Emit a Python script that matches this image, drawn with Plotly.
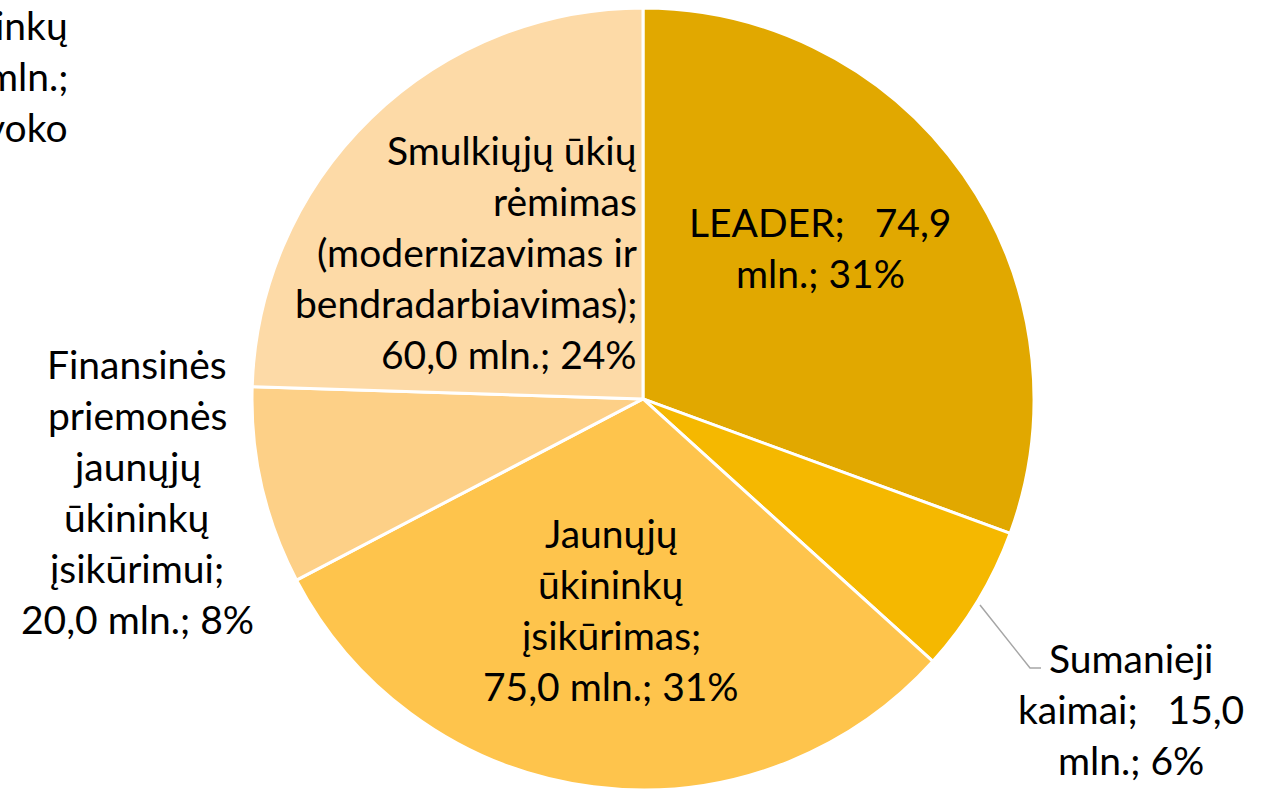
import plotly.graph_objects as go

# chart data
labels = ["LEADER", "Sumanieji kaimai", "Jaunųjų ūkininkų įsikūrimas",
          "Finansinės priemonės jaunųjų ūkininkų įsikūrimui",
          "Smulkiųjų ūkių rėmimas (modernizavimas ir bendradarbiavimas)"]
values = [74.9, 15.0, 75.0, 20.0, 60.0]
colors = ["#E1A800", "#F5B800", "#FEC44C", "#FDD087", "#FDDAA7"]

# label wrapping, "|" = line break
templates = [
    "LEADER;   {v}|mln.; {p}%",
    "Sumanieji|kaimai;   {v}|mln.; {p}%",
    "Jaunųjų|ūkininkų|įsikūrimas;|{v} mln.; {p}%",
    "Finansinės|priemonės|jaunųjų|ūkininkų|įsikūrimui;|{v} mln.; {p}%",
    "Smulkiųjų ūkių|rėmimas|(modernizavimas ir|bendradarbiavimas);|{v} mln.; {p}%",
]
# first-line centre (px) and horizontal anchor of each label
label_pos = [(820, 222, "center"), (1131, 658, "center"), (611, 533, "center"),
             (137, 364, "center"), (639, 150, "right")]

# partly cut label in the top-left corner
corner_lines = ["inkų", "mln.;", "voko"]

W, H = 1269, 790
LINE = 51
FONT = dict(family="Lato, Calibri, sans-serif", size=39, color="black")

fig = go.Figure(go.Pie(
    labels=labels,
    values=values,
    sort=False,
    direction="clockwise",
    rotation=0,
    marker=dict(colors=colors, line=dict(color="white", width=3)),
    textinfo="none",
    hoverinfo="label+value+percent",
    showlegend=False,
    domain=dict(x=[(643 - 391) / W, (643 + 391) / W], y=[0, 0.99]),
))

total = sum(values)
annotations = []
for tpl, v, (px, py, anchor) in zip(templates, values, label_pos):
    txt = tpl.format(v=f"{v:.1f}".replace(".", ","), p=round(v / total * 100))
    for i, line in enumerate(txt.split("|")):
        annotations.append(dict(
            x=px / W, y=1 - py / H, xref="paper", yref="paper",
            xanchor=anchor, yanchor="middle", yshift=-i * LINE,
            text=line, showarrow=False, font=FONT,
        ))
for i, line in enumerate(corner_lines):
    annotations.append(dict(
        x=70 / W, y=1 - 25 / H, xref="paper", yref="paper",
        xanchor="right", yanchor="middle", yshift=-i * LINE,
        text=line, showarrow=False, font=FONT,
    ))

fig.update_layout(
    width=W,
    height=H,
    margin=dict(l=0, r=0, t=0, b=0),
    paper_bgcolor="white",
    plot_bgcolor="white",
    annotations=annotations,
    shapes=[dict(
        type="path", xref="paper", yref="paper",
        path=f"M {980 / W},{1 - 605 / H} L {1030 / W},{1 - 668 / H} L {1041 / W},{1 - 668 / H}",
        line=dict(color="#A6A6A6", width=1.5),
    )],
)

fig.write_html("out.html", config={"displayModeBar": False},
               post_script="document.body.style.margin='0';")
